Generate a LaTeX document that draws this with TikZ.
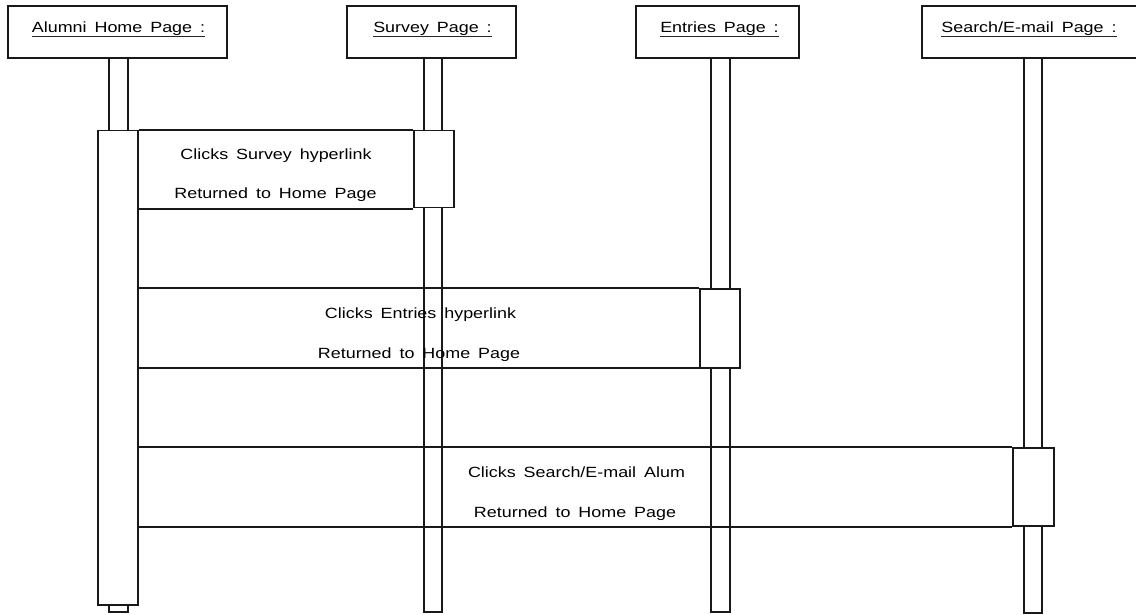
\documentclass[tikz,border=0pt]{standalone}
\usepackage{fontspec}
\newfontfamily\msf[FakeStretch=1.21,WordSpace=1.6]{Liberation Sans}
\begin{document}
\begin{tikzpicture}[x=1pt,y=-1pt,
  ln/.style={line width=1.5pt,draw=black!90},
  boxr/.style={ln,fill=white},
  lbl/.style={font=\msf\fontsize{14.8}{16}\selectfont,inner sep=0pt,anchor=base,text=black},
  ul/.style={line width=1.2pt,draw=black!85}]
\clip (0,0) rectangle (1136,615);
\fill[white] (0,0) rectangle (1136,615);
% header boxes
\draw[boxr] (8,6) rectangle (227,58);
\draw[boxr] (347,6) rectangle (516,58);
\draw[boxr] (636,6) rectangle (799,58);
\draw[boxr] (922,6) rectangle (1144,58);
\node[lbl] (hA) at (118.5,32.5) {Alumni Home Page :};
\node[lbl] (hS) at (432.5,32.5) {Survey Page :};
\node[lbl] (hE) at (719.5,32.5) {Entries Page :};
\node[lbl] (hX) at (1029,32.5) {Search/E-mail Page :};
\foreach \n in {hA,hS,hE,hX}
  \draw[ul] ([yshift=-4pt]\n.base west) -- ([yshift=-4pt]\n.base east);
% lifelines
\draw[boxr] (109,58) rectangle (128,612);
\draw[boxr] (424,58) rectangle (442,612);
\draw[boxr] (711,58) rectangle (730,612);
\draw[boxr] (1024,58) rectangle (1042,613);
% activations
\node[boxr,inner sep=0pt,minimum width=40pt,minimum height=474pt,anchor=north west] (aA) at (97,130) {};
\node[boxr,inner sep=0pt,minimum width=40pt,minimum height=77pt,anchor=north west] (aS) at (413,130) {};
\node[boxr,inner sep=0pt,minimum width=40pt,minimum height=79pt,anchor=north west] (aE) at (699,288) {};
\node[boxr,inner sep=0pt,minimum width=41pt,minimum height=78pt,anchor=north west] (aX) at (1012,447) {};
% messages
\coordinate (r1) at (137,209);
\coordinate (r1e) at (413,209);
\draw[ln] (aA.north east) -- (aS.north west);
\draw[ln] (r1) -- (r1e);
\coordinate (c2) at (137,288);
\coordinate (r2) at (137,368);
\coordinate (r2e) at (699,368);
\draw[ln] (c2) -- (aE.north west);
\draw[ln] (r2) -- (r2e);
\coordinate (c3) at (137,447);
\coordinate (r3) at (137,527);
\coordinate (r3e) at (1012,527);
\draw[ln] (c3) -- (aX.north west);
\draw[ln] (r3) -- (r3e);
% message labels
\node[lbl] (t1a) at (276,159.4) {Clicks Survey hyperlink};
\node[lbl] (t1b) at (275.5,198.4) {Returned to Home Page};
\node[lbl] (t2a) at (420.5,318.4) {Clicks Entries hyperlink};
\node[lbl] (t2b) at (419,358.4) {Returned to Home Page};
\node[lbl] (t3a) at (576.5,477.4) {Clicks Search/E-mail Alum};
\node[lbl] (t3b) at (575,517.4) {Returned to Home Page};
\end{tikzpicture}
\end{document}
